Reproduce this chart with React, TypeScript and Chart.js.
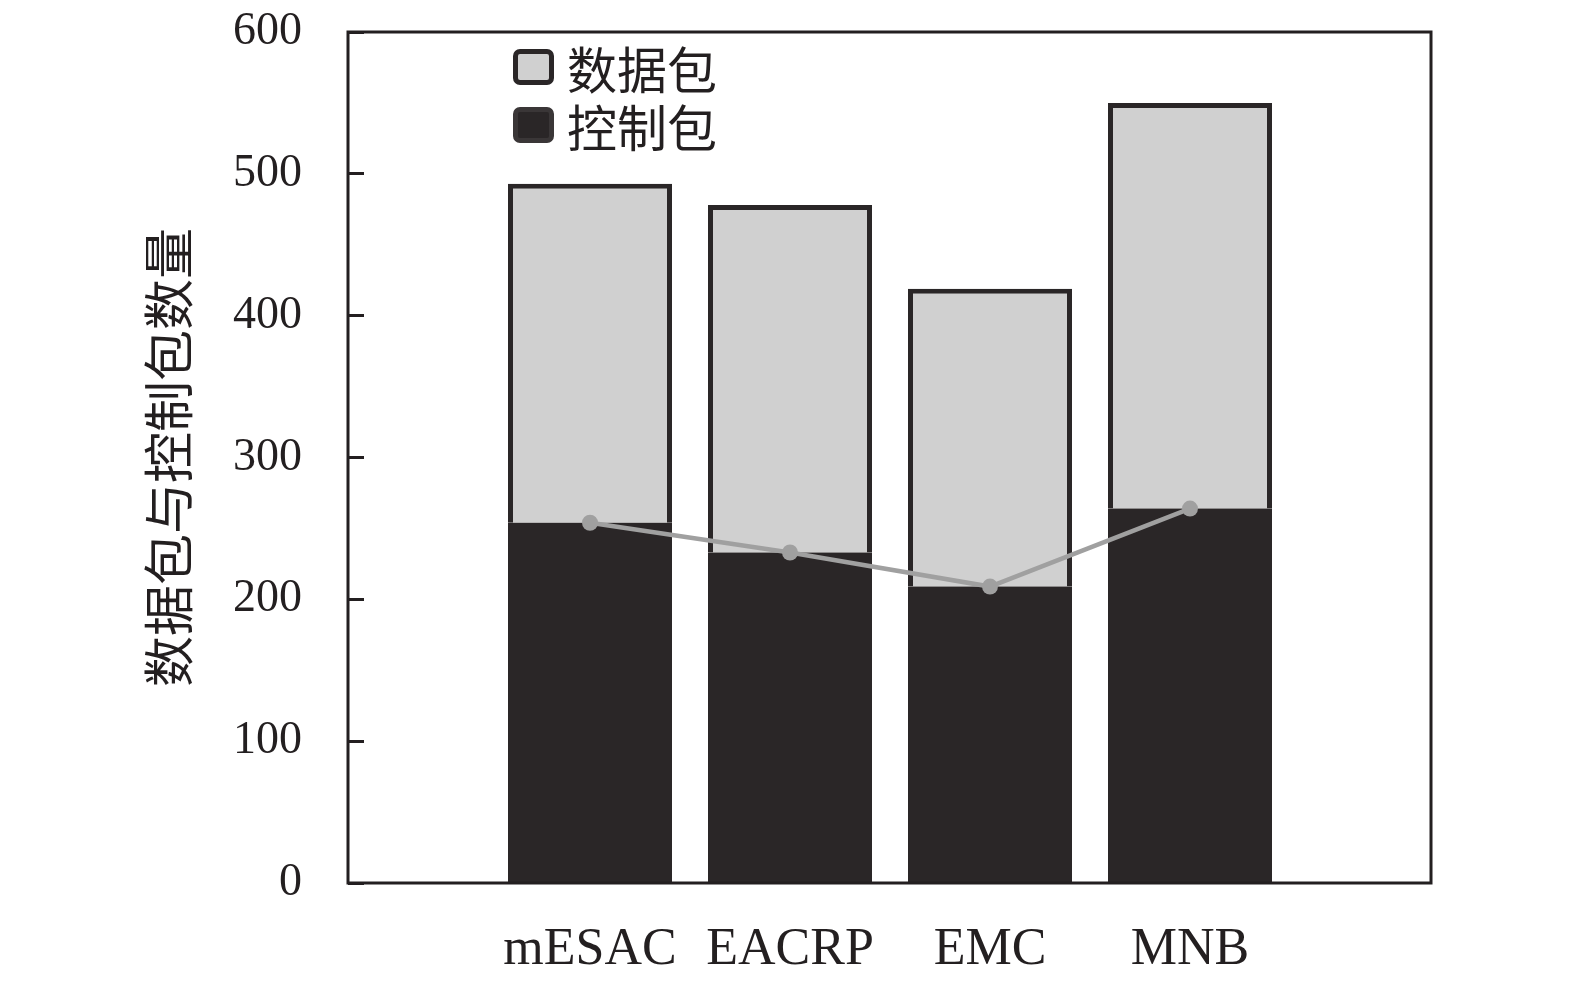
import { useEffect, useRef } from "react";
import { Chart, registerables, Plugin } from "chart.js";

Chart.register(...registerables);

const categories = ["mESAC", "EACRP", "EMC", "MNB"];
const controlPackets = [254, 233, 209, 264];
const dataPackets = [239, 245, 210, 286];
const yTicks = [0, 100, 200, 300, 400, 500, 600];
const legendLabels = ["数据包", "控制包"];

const INK = "#2a2627";
const LIGHT = "#d0d0d0";
const LINE = "#a0a0a0";
const serif = '"Liberation Serif", "Times New Roman", serif';
const cjk = '"Noto Sans CJK SC", sans-serif';

// box round the plot area
const framePlugin: Plugin = {
  id: "frame",
  afterDraw(chart) {
    const { ctx, chartArea: a } = chart;
    ctx.save();
    ctx.strokeStyle = "#231f20";
    ctx.lineWidth = 3;
    ctx.strokeRect(a.left, a.top, a.right - a.left, a.bottom - a.top);
    ctx.restore();
  },
};

export default function App() {
  const chartRef = useRef<HTMLCanvasElement | null>(null);
  const chartInstance = useRef<Chart | null>(null);

  useEffect(() => {
    document.body.style.margin = "0";
    if (!chartRef.current) return;
    if (chartInstance.current) chartInstance.current.destroy();

    chartInstance.current = new Chart(chartRef.current, {
      type: "bar",
      data: {
        datasets: [
          {
            type: "line" as const,
            label: "控制包趋势",
            data: controlPackets.map((v, i) => ({ x: i, y: v })),
            borderColor: LINE,
            backgroundColor: LINE,
            borderWidth: 4.5,
            pointRadius: 8,
            pointBorderWidth: 0,
            pointBackgroundColor: LINE,
            stack: "line",
            order: 0,
          },
          {
            type: "bar" as const,
            label: legendLabels[1],
            data: controlPackets.map((v, i) => ({ x: i, y: v })),
            backgroundColor: INK,
            borderWidth: 0,
            stack: "bars",
            order: 1,
          },
          {
            type: "bar" as const,
            label: legendLabels[0],
            data: dataPackets.map((v, i) => ({ x: i, y: v })),
            backgroundColor: LIGHT,
            borderColor: INK,
            borderWidth: 5,
            borderSkipped: "bottom",
            stack: "bars",
            order: 1,
          },
        ],
      },
      options: {
        responsive: true,
        maintainAspectRatio: false,
        animation: false,
        layout: { padding: { left: 138, top: 32, right: 144, bottom: 0 } },
        datasets: {
          bar: { categoryPercentage: 1, barPercentage: 0.82 },
        },
        scales: {
          x: {
            type: "linear",
            min: -1.21,
            max: 4.205,
            offset: false,
            z: 1,
            afterBuildTicks: (axis) => {
              axis.ticks = categories.map((_, i) => ({ value: i }));
            },
            ticks: {
              callback: (value) => categories[Number(value)] ?? "",
              font: { family: serif, size: 52 },
              color: "#231f20",
              padding: 47,
              maxRotation: 0,
              autoSkip: false,
            },
            grid: {
              drawOnChartArea: false,
              drawTicks: true,
              tickLength: -11,
              tickWidth: 2,
              tickColor: "#8a8a8a",
              offset: false,
            },
            border: { display: false },
            afterFit: (axis) => {
              axis.height = 103;
              axis.paddingLeft = 0;
              axis.paddingRight = 0;
            },
          },
          y: {
            stacked: true,
            min: 0,
            max: 600,
            afterBuildTicks: (axis) => {
              axis.ticks = yTicks.map((v) => ({ value: v }));
            },
            ticks: {
              font: { family: serif, size: 46 },
              color: "#231f20",
              padding: 62,
            },
            grid: {
              drawOnChartArea: false,
              drawTicks: true,
              tickLength: -16,
              tickWidth: 3,
              tickColor: "#231f20",
            },
            border: { display: false },
            title: {
              display: true,
              text: "数据包与控制包数量",
              font: { family: cjk, size: 51 },
              color: "#231f20",
              padding: 0,
            },
            afterFit: (axis) => {
              axis.width = 210;
              axis.paddingTop = 0;
              axis.paddingBottom = 0;
            },
          },
        },
        plugins: {
          legend: { display: false },
          tooltip: { enabled: false },
        },
      },
      plugins: [framePlugin],
    });

    return () => {
      if (chartInstance.current) {
        chartInstance.current.destroy();
        chartInstance.current = null;
      }
    };
  }, []);

  const legendItems = [
    { label: legendLabels[0], fill: LIGHT, border: INK },
    { label: legendLabels[1], fill: INK, border: "#3a3637" },
  ];

  return (
    <div style={{ position: "relative", width: 1575, height: 986, background: "#fff" }}>
      <canvas ref={chartRef} />
      <div style={{ position: "absolute", left: 513, top: 38, fontFamily: cjk, fontSize: 50, color: "#231f20" }}>
        {legendItems.map((item) => (
          <div key={item.label} style={{ display: "flex", alignItems: "center", height: 58 }}>
            <div
              style={{
                width: 31,
                height: 26,
                background: item.fill,
                border: `5px solid ${item.border}`,
                borderRadius: 7,
                marginRight: 13,
              }}
            />
            <span style={{ lineHeight: "58px" }}>{item.label}</span>
          </div>
        ))}
      </div>
    </div>
  );
}
